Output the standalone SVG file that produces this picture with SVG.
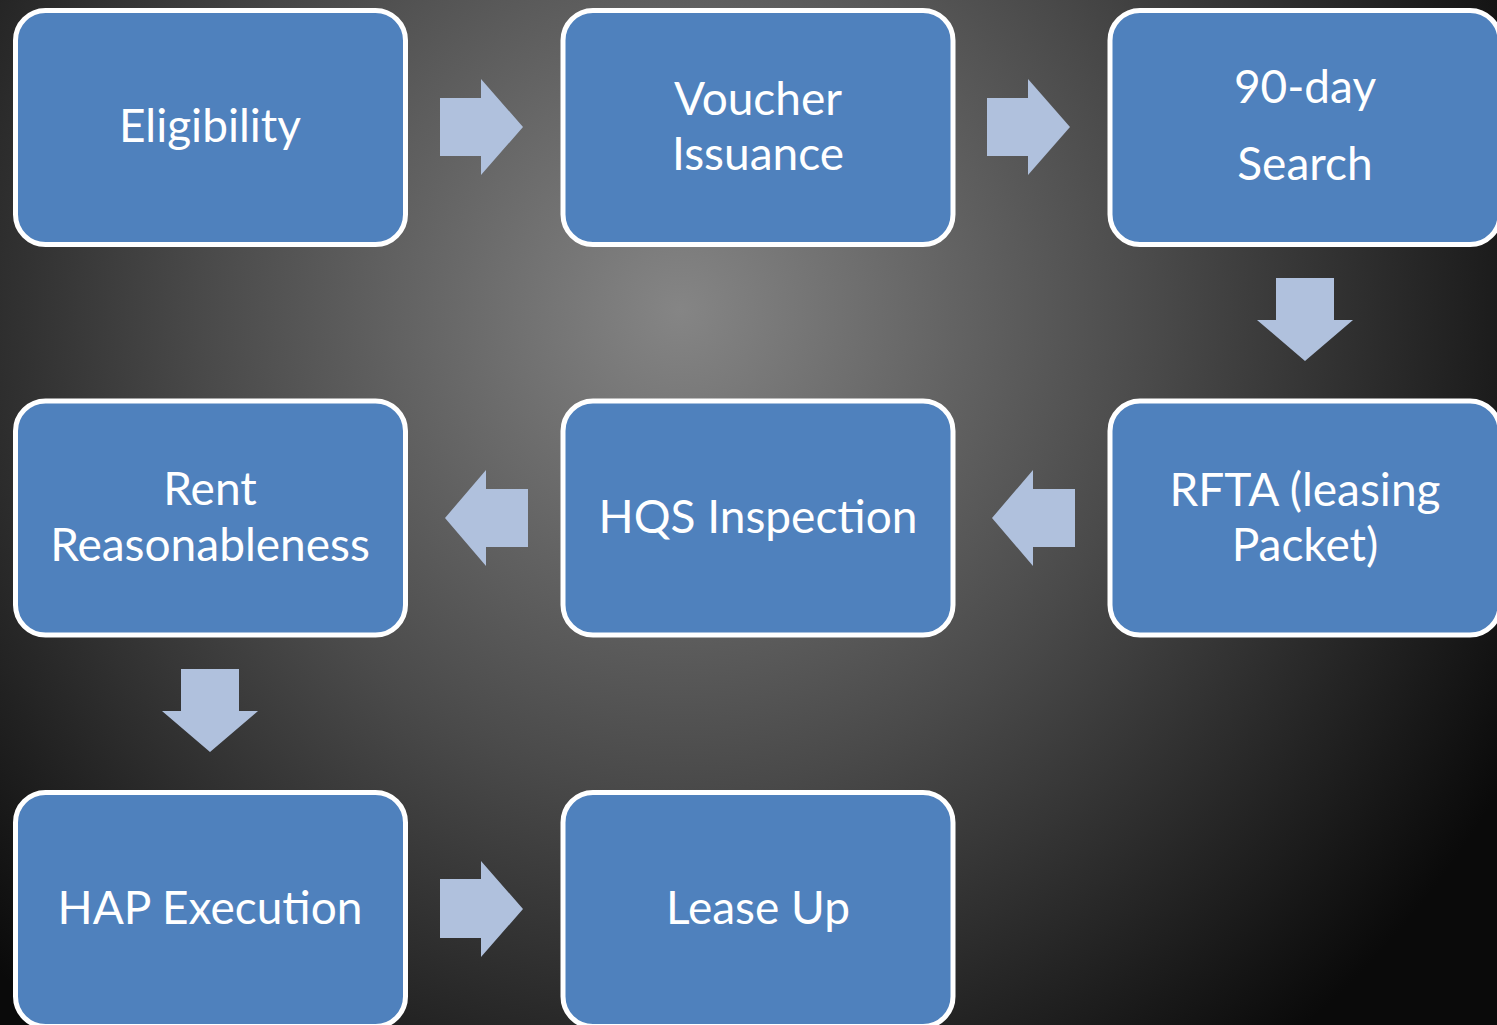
<svg xmlns="http://www.w3.org/2000/svg" width="1497" height="1025" viewBox="0 0 1497 1025">
<defs>
<radialGradient id="bg" gradientUnits="userSpaceOnUse" cx="680" cy="310" r="950">
<stop offset="0" stop-color="#858585"/>
<stop offset="0.5" stop-color="#4a4a4a"/>
<stop offset="1" stop-color="#0a0a0a"/>
</radialGradient>
<style>
.box{fill:#4F81BD;stroke:#FFFFFF;stroke-width:5}
.arr{fill:#B0C1DD}
.t{fill:#FFFFFF;font-family:Lato,"Open Sans","DejaVu Sans",sans-serif;font-size:46px;text-anchor:middle}
</style>
</defs>
<rect x="0" y="0" width="1497" height="1025" fill="url(#bg)"/>
<g id="connectors">
<polygon class="arr" points="440,98 481,98 481,79 523,127 481,175 481,156 440,156"/>
<polygon class="arr" points="987,98 1028,98 1028,79 1070,127 1028,175 1028,156 987,156"/>
<polygon class="arr" points="1276,278 1334,278 1334,320 1353,320 1305,361 1257,320 1276,320"/>
<polygon class="arr" points="1075,489 1033,489 1033,470 992,518 1033,566 1033,547 1075,547"/>
<polygon class="arr" points="528,489 486,489 486,470 445,518 486,566 486,547 528,547"/>
<polygon class="arr" points="181,669 239,669 239,711 258,711 210,752 162,711 181,711"/>
<polygon class="arr" points="440,879 481,879 481,861 523,909 481,957 481,938 440,938"/>
</g>
<g id="eligibility">
<rect class="box" x="15.5" y="10.5" width="390" height="234" rx="30"/>
<text class="t" x="210" y="142">Eligibility</text>
</g>
<g id="voucher">
<rect class="box" x="563" y="10.5" width="390" height="234" rx="30"/>
<text class="t" x="758" y="115">Voucher</text>
<text class="t" x="758" y="170">Issuance</text>
</g>
<g id="search">
<rect class="box" x="1110" y="10.5" width="390" height="234" rx="30"/>
<text class="t" x="1305" y="103">90-day</text>
<text class="t" x="1305" y="180">Search</text>
</g>
<g id="rfta">
<rect class="box" x="1110" y="401" width="390" height="234" rx="30"/>
<text class="t" x="1305" y="506">RFTA (leasing</text>
<text class="t" x="1305" y="561">Packet)</text>
</g>
<g id="hqs">
<rect class="box" x="563" y="401" width="390" height="234" rx="30"/>
<text class="t" x="758" y="533">HQS Inspection</text>
</g>
<g id="rent">
<rect class="box" x="15.5" y="401" width="390" height="234" rx="30"/>
<text class="t" x="210" y="505">Rent</text>
<text class="t" x="210" y="561">Reasonableness</text>
</g>
<g id="hap">
<rect class="box" x="15.5" y="792.5" width="390" height="234" rx="30"/>
<text class="t" x="210" y="924">HAP Execution</text>
</g>
<g id="lease">
<rect class="box" x="563" y="792.5" width="390" height="234" rx="30"/>
<text class="t" x="758" y="924">Lease Up</text>
</g>
</svg>
